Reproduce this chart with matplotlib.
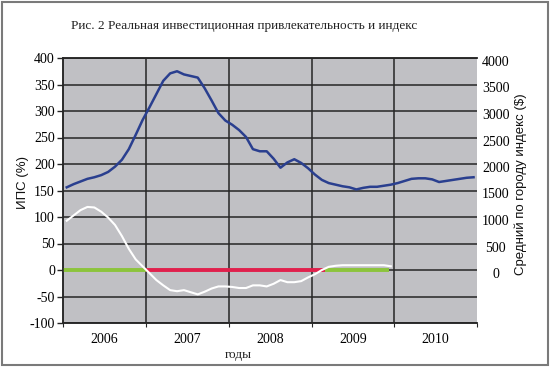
import matplotlib
matplotlib.use("Agg")
import matplotlib.pyplot as plt
from matplotlib.patches import Rectangle
from matplotlib.transforms import ScaledTranslation
import numpy as np

# ---- data ----
years = ["2006", "2007", "2008", "2009", "2010"]
months_per_year = 12

# Average city index ($), monthly, Jan 2006 .. Dec 2010 (right axis)
index_usd = [1560, 1620, 1670, 1720, 1750, 1790, 1850, 1950, 2080, 2280, 2550, 2830,
             3070, 3320, 3570, 3710, 3750, 3690, 3660, 3630, 3430, 3200, 2960, 2820,
             2740, 2640, 2510, 2280, 2240, 2240, 2100, 1930, 2030, 2090, 2020, 1920,
             1800, 1700, 1640, 1610, 1580, 1560, 1520, 1550, 1570, 1570, 1590, 1610,
             1640, 1680, 1720, 1730, 1730, 1710, 1660, 1680, 1700, 1720, 1740, 1750]

# ИПС (%), monthly, Jan 2006 .. Dec 2009 (left axis)
ips = [93, 103, 113, 119, 118, 110, 99, 85, 64, 40, 20, 7,
       -6, -19, -29, -38, -40, -38, -42, -46, -41, -35, -31, -31,
       -32, -34, -34, -29, -29, -31, -26, -19, -23, -23, -21, -14,
       -8, 0, 6, 8, 9, 9, 9, 9, 9, 9, 9, 7]

# signal segments along zero line: (start month, end month, colour)
signal_start = [0, 12, 37.9]
signal_end = [12, 37.9, 47.3]
signal_color = ["#8CC43C", "#E0204C", "#8CC43C"]

left_ticks = list(range(-100, 401, 50))
right_ticks = list(range(0, 4001, 500))

# ---- figure ----
W, H = 550, 367
fig = plt.figure(figsize=(W / 100, H / 100), dpi=100)
fig.patch.set_facecolor("white")
fig.patches.append(Rectangle((2 / W, 2 / H), 1 - 4 / W, 1 - 4 / H, transform=fig.transFigure,
                             fill=False, edgecolor="#7a7a7a", linewidth=1.5))

ax_l, ax_r, ax_t, ax_b = 63.3, 477, 58, 323
ax = fig.add_axes([ax_l / W, 1 - ax_b / H, (ax_r - ax_l) / W, (ax_b - ax_t) / H])
ax.set_facecolor("#C0C0C4")
ax2 = ax.twinx()

n_total = len(years) * months_per_year
x_idx = np.arange(n_total) + 0.5
x_ips = np.arange(len(ips)) + 0.5

ax.set_xlim(0, n_total)
ax.set_ylim(-100, 400)
ax2.set_ylim(-1000, 4000)

# grid
for v in left_ticks:
    ax.axhline(v, color="#262626", lw=1.1, zorder=1)
for k in range(1, len(years)):
    ax.axvline(k * months_per_year, color="#262626", lw=1.1, zorder=1)

# signal bars
for s, e, c in zip(signal_start, signal_end, signal_color):
    ax.plot([s, e], [0, 0], color=c, lw=2.8, solid_capstyle="butt", zorder=3)

ax.plot(x_ips, ips, color="white", lw=1.5, zorder=4)
ax2.plot(x_idx, index_usd, color="#2A3F8F", lw=1.8, zorder=5)

serif = "Liberation Serif"
sans = "Liberation Sans"

ax.set_yticks(left_ticks)
ax.set_yticklabels([str(v) for v in left_ticks], fontfamily=serif, fontsize=10)
ax.tick_params(axis="y", direction="out", length=4, width=1, color="#262626", pad=2)

ax.set_xticks([k * months_per_year for k in range(len(years) + 1)])
ax.set_xticklabels([""] * (len(years) + 1))
ax.set_xticks([k * months_per_year + months_per_year / 2 for k in range(len(years))], minor=True)
ax.set_xticklabels(years, minor=True, fontfamily=serif, fontsize=10)
ax.tick_params(axis="x", which="major", direction="out", length=3, color="#262626")
ax.tick_params(axis="x", which="minor", length=0, pad=7)

ax2.set_yticks(right_ticks)
ax2.set_yticklabels([str(v) for v in right_ticks], fontfamily=serif, fontsize=10)
ax2.tick_params(axis="y", length=0, pad=13.5)
for lab in ax2.get_yticklabels():
    lab.set_horizontalalignment("center")
    lab.set_transform(lab.get_transform() + ScaledTranslation(0, -3 / 100, fig.dpi_scale_trans))

for a in (ax, ax2):
    for sp in a.spines.values():
        sp.set_color("#262626")
        sp.set_linewidth(1.1)
    a.spines["right"].set_visible(False)

fig.text(244 / W, 1 - 26 / H, "Рис. 2 Реальная инвестиционная привлекательность и индекс",
         ha="center", va="center", fontfamily=serif, fontsize=9.5, color="#222222")
fig.text(23 / W, 1 - 183 / H, "ИПС (%)", rotation=90, ha="center", va="center",
         fontfamily=sans, fontsize=9.5, color="#111111")
fig.text(521 / W, 1 - 184 / H, "Средний по городу индекс ($)", rotation=90, ha="center",
         va="center", fontfamily=sans, fontsize=9.5, color="#111111")
fig.text(238.6 / W, 1 - 355 / H, "годы", ha="center", va="center",
         fontfamily=serif, fontsize=9.5, color="#222222")

fig.savefig("out.png", dpi=100, facecolor="white")
